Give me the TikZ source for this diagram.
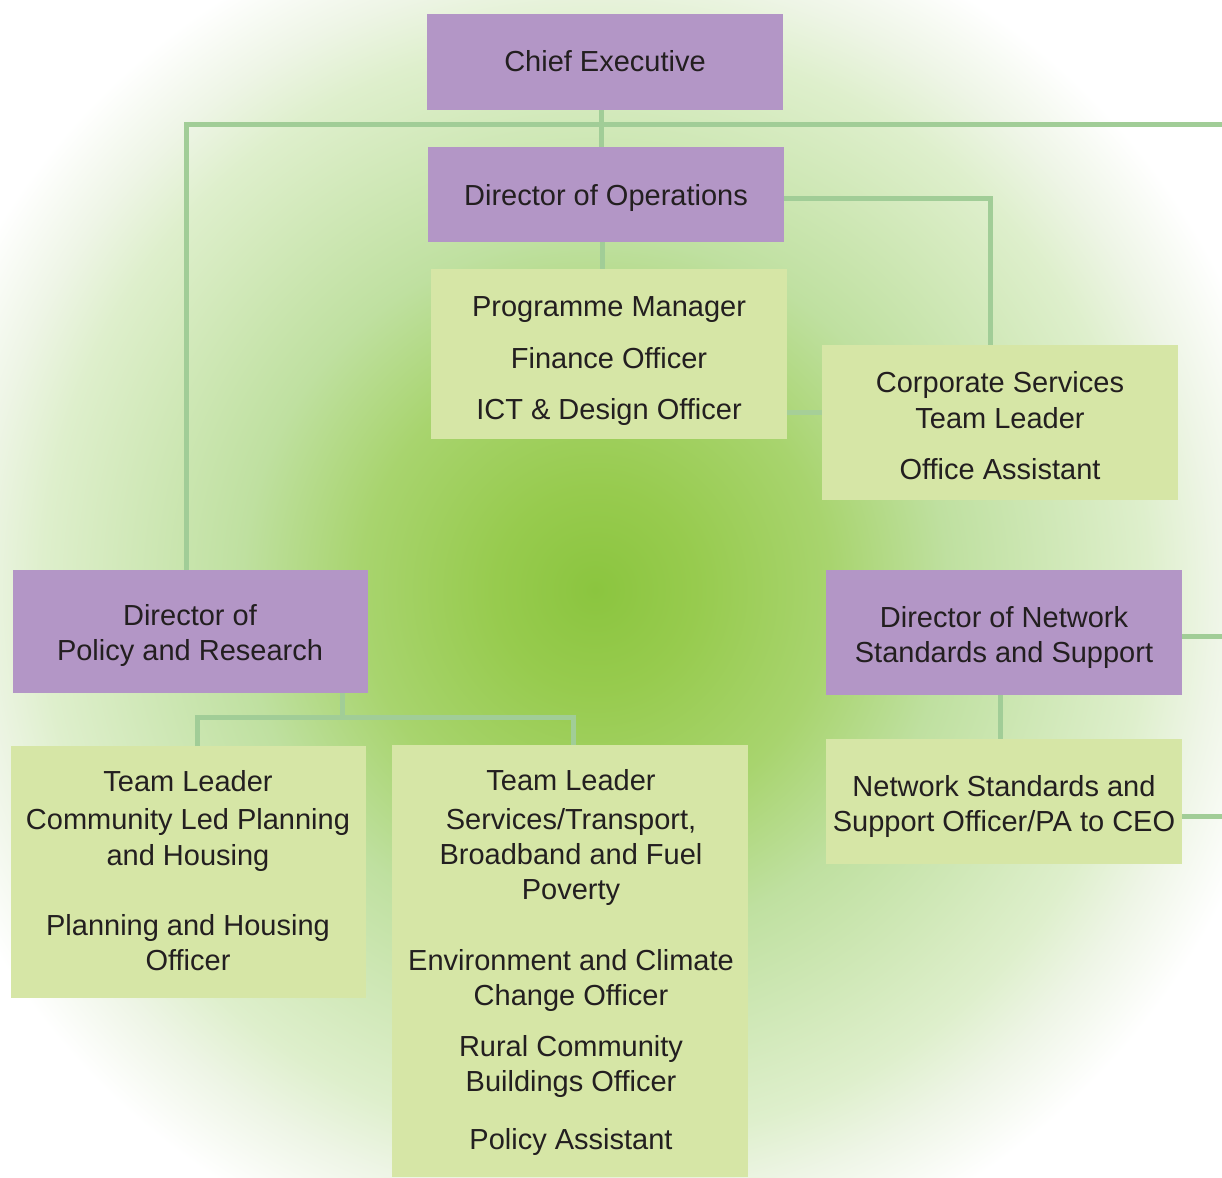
\documentclass[tikz,border=0pt]{standalone}
\usepackage{fontspec}
\setmainfont{Liberation Sans}
\definecolor{purp}{HTML}{B396C6}
\definecolor{leaf}{HTML}{D6E6A6}
\definecolor{link}{HTML}{A1CD97}
\definecolor{ink}{HTML}{231F20}
\definecolor{glowa}{RGB}{139,197,63}
\definecolor{glowb}{RGB}{151,203,78}
\definecolor{glowc}{RGB}{168,212,110}
\definecolor{glowd}{RGB}{191,224,160}
\definecolor{glowe}{RGB}{214,235,192}
\definecolor{glowf}{RGB}{222,239,204}
\definecolor{glowg}{RGB}{238,245,230}
% soft green glow behind the chart
\pgfdeclareradialshading{glow}{\pgfpoint{0bp}{0bp}}{%
  color(0bp)=(glowa); color(3.57bp)=(glowb); color(8.39bp)=(glowc);
  color(12.64bp)=(glowd); color(17.86bp)=(glowe); color(19.75bp)=(glowf);
  color(22.14bp)=(glowg); color(25bp)=(white); color(50bp)=(white)}
\begin{document}
\begin{tikzpicture}[x=1pt,y=-1pt,
  rolebox/.style={fill=purp,draw=none,inner sep=0pt,anchor=north west},
  staffbox/.style={fill=leaf,draw=none,inner sep=0pt,anchor=north west},
  txt/.style={anchor=base,inner sep=0pt,text=ink,font=\fontsize{29}{35}\selectfont},
  link/.style={draw=link,line width=5pt}]
\useasboundingbox (0,0) rectangle (1222,1177);
\fill[white] (0,0) rectangle (1222,1177);
\begin{scope}
  \clip (0,0) rectangle (1222,1177);
  \shade[shading=glow] (595,590) circle (700pt);
\end{scope}

% boxes
\node[rolebox,minimum width=356pt,minimum height=96pt] (ce) at (427,14) {};
\node[rolebox,minimum width=356pt,minimum height=95pt] (ops) at (428,147) {};
\node[staffbox,minimum width=356pt,minimum height=170pt] (prog) at (431,269) {};
\node[staffbox,minimum width=356pt,minimum height=155pt] (corp) at (822,345) {};
\node[rolebox,minimum width=355pt,minimum height=123pt] (pol) at (13,570) {};
\node[rolebox,minimum width=356pt,minimum height=125pt] (net) at (826,570) {};
\node[staffbox,minimum width=355pt,minimum height=252pt] (clp) at (11,746) {};
\node[staffbox,minimum width=356pt,minimum height=432pt] (svc) at (392,745) {};
\node[staffbox,minimum width=356pt,minimum height=125pt] (nss) at (826,739) {};

% free ends of the lines leaving the page
\coordinate (edgetop) at (1222,125);
\coordinate (edgenet) at (1222,636);
\coordinate (edgenss) at (1222,816);
\coordinate (topbar) at (186,125);

% connectors
\draw[link] (ce.south -| 601,0) -- (ops.north -| 601,0);
\draw[link] (pol.north -| topbar) -- (topbar) -- (edgetop);
\draw[link] (ops.south -| 602,0) -- (prog.north -| 602,0);
\draw[link] (ops.east |- 0,198) -- (990,198) -- (corp.north -| 990,0);
\draw[link,draw=link!90!leaf] (prog.east |- 0,412) -- (corp.west |- 0,412);
\draw[link] (pol.south -| 342,0) -- (342,717);
\draw[link] (clp.north -| 197,0) -- (197,717) -- (573,717) -- (svc.north -| 573,0);
\draw[link] (net.south -| 1000,0) -- (nss.north -| 1000,0);
\draw[link] (net.east |- edgenet) -- (edgenet);
\draw[link] (nss.east |- edgenss) -- (edgenss);

% texts
\node[txt] (ce-a) at (605,72) {Chief Executive};
\node[txt] (ops-a) at (606,205) {Director of Operations};
\node[txt] (prog-a) at (609,316) {Programme Manager};
\node[txt] (prog-b) at (609,368) {Finance Officer};
\node[txt] (prog-c) at (609,419) {ICT \& Design Officer};
\node[txt] (corp-a) at (1000,392) {Corporate Services};
\node[txt] (corp-b) at (1000,428) {Team Leader};
\node[txt] (corp-c) at (1000,479) {Office Assistant};
\node[txt] (pol-a) at (190,625) {Director of};
\node[txt] (pol-b) at (190,660) {Policy and Research};
\node[txt] (net-a) at (1004,627) {Director of Network};
\node[txt] (net-b) at (1004,662) {Standards and Support};
\node[txt] (clp-a) at (188,791) {Team Leader};
\node[txt] (clp-b) at (188,829) {Community Led Planning};
\node[txt] (clp-c) at (188,865) {and Housing};
\node[txt] (clp-d) at (188,935) {Planning and Housing};
\node[txt] (clp-e) at (188,970) {Officer};
\node[txt] (svc-a) at (571,790) {Team Leader};
\node[txt] (svc-b) at (571,829) {Services/Transport,};
\node[txt] (svc-c) at (571,864) {Broadband and Fuel};
\node[txt] (svc-d) at (571,899) {Poverty};
\node[txt] (svc-e) at (571,970) {Environment and Climate};
\node[txt] (svc-f) at (571,1005) {Change Officer};
\node[txt] (svc-g) at (571,1056) {Rural Community};
\node[txt] (svc-h) at (571,1091) {Buildings Officer};
\node[txt] (svc-i) at (571,1149) {Policy Assistant};
\node[txt] (nss-a) at (1004,796) {Network Standards and};
\node[txt] (nss-b) at (1004,831) {Support Officer/PA to CEO};
\end{tikzpicture}
\end{document}
